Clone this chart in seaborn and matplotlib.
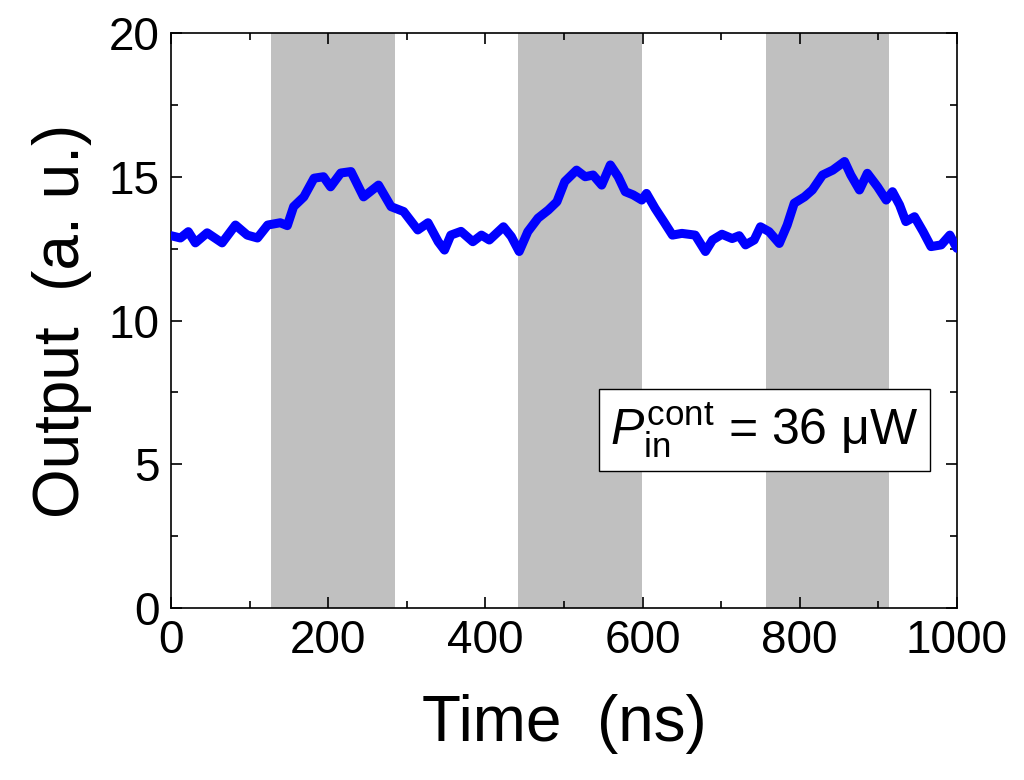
import matplotlib
matplotlib.use("Agg")
import matplotlib.pyplot as plt
import seaborn as sns
import pandas as pd

# time (ns) and output (a. u.)
time_ns = [0, 12, 22, 31, 46, 65, 82, 97, 110, 123, 139, 148, 156, 169, 182,
           194, 203, 216, 229, 245, 264, 280, 296, 314, 327, 340, 348, 356,
           369, 384, 395, 405, 423, 433, 443, 454, 467, 480, 491, 501, 516,
           527, 537, 548, 559, 569, 578, 588, 599, 605, 616, 627, 638, 650,
           667, 680, 689, 701, 714, 723, 731, 742, 750, 761, 774, 784, 793,
           806, 816, 829, 842, 857, 865, 876, 886, 899, 910, 918, 927, 935,
           946, 957, 967, 980, 991, 1000]
output = [12.95, 12.87, 13.09, 12.70, 13.05, 12.70, 13.32, 12.97, 12.87,
          13.32, 13.40, 13.30, 13.96, 14.30, 14.95, 15.00, 14.65, 15.13,
          15.18, 14.30, 14.71, 13.96, 13.79, 13.15, 13.40, 12.74, 12.45,
          12.97, 13.10, 12.74, 12.97, 12.80, 13.26, 12.92, 12.40, 13.09,
          13.56, 13.84, 14.13, 14.83, 15.23, 15.00, 15.06, 14.71, 15.41,
          15.00, 14.48, 14.37, 14.19, 14.42, 13.90, 13.44, 12.97, 13.03,
          12.97, 12.40, 12.80, 13.00, 12.85, 12.95, 12.63, 12.80, 13.26,
          13.09, 12.68, 13.32, 14.08, 14.30, 14.54, 15.06, 15.23, 15.53,
          15.06, 14.54, 15.12, 14.65, 14.19, 14.48, 14.02, 13.44, 13.61,
          13.09, 12.57, 12.63, 12.97, 12.51]

# shaded pulse windows (ns)
pulse_start = [127, 442, 757]
pulse_end = [285, 599, 914]

x_ticks = [0, 200, 400, 600, 800, 1000]
y_ticks = [0, 5, 10, 15, 20]

sns.set_style("ticks", {'axes.edgecolor': 'black', 'text.color': 'black',
                        'xtick.color': 'black', 'ytick.color': 'black',
                        'axes.labelcolor': 'black'})
plt.rcParams['font.family'] = ['Liberation Sans', 'DejaVu Sans']
plt.rcParams['mathtext.fontset'] = 'custom'
plt.rcParams['mathtext.rm'] = 'Liberation Sans'
plt.rcParams['mathtext.it'] = 'Liberation Sans:italic'

fig = plt.figure(figsize=(10.24, 7.8), dpi=100)
ax = fig.add_axes([0.167, 0.2205, 0.7675, 0.7372])

for s, e in zip(pulse_start, pulse_end):
    ax.axvspan(s, e, color='#c0c0c0', lw=0, zorder=0)

df = pd.DataFrame({'Time': time_ns, 'Output': output})
sns.lineplot(data=df, x='Time', y='Output', ax=ax, color='#0000ff',
             lw=6.5, solid_joinstyle='round', solid_capstyle='round',
             zorder=3)

ax.set_xlim(0, 1000)
ax.set_ylim(0, 20)
ax.set_xticks(x_ticks)
ax.set_yticks(y_ticks)
ax.set_xticks(range(100, 1000, 200), minor=True)
ax.set_yticks([2.5, 7.5, 12.5, 17.5], minor=True)
ax.tick_params(which='both', direction='in', top=True, right=True,
               width=1.2, labelsize=33, pad=8, colors='black')
ax.tick_params(which='major', length=8)
ax.tick_params(which='minor', length=5)
for sp in ax.spines.values():
    sp.set_linewidth(1.2)
    sp.set_color('black')

ax.set_xlabel('Time  (ns)', fontsize=46, labelpad=22, color='black')
ax.set_ylabel('Output  (a. u.)', fontsize=46, labelpad=12, color='black')

ax.text(0.755, 0.31, r'$P_{\rm in}^{\rm cont}$ = 36 μW', transform=ax.transAxes,
        ha='center', va='center', fontsize=36, zorder=5, color='black',
        bbox=dict(boxstyle='square,pad=0.22', fc='white', ec='black', lw=1))

fig.savefig('out.png', dpi=100)
